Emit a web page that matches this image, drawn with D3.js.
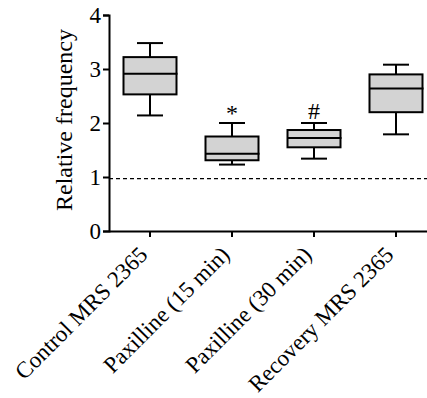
<!DOCTYPE html>
<html>
<head>
<meta charset="utf-8">
<script src="https://cdn.jsdelivr.net/npm/d3@7"></script>
<style>
  body { margin: 0; background: #fff; }
  svg, svg text { font-family: "Liberation Serif", "Times New Roman", serif; }
</style>
</head>
<body>
<svg id="chart" width="427" height="398"></svg>
<script>
const categories = ["Control MRS 2365", "Paxilline (15 min)", "Paxilline (30 min)", "Recovery MRS 2365"]
const whiskerLow = [2.14, 1.23, 1.34, 1.79]
const q1 = [2.53, 1.31, 1.55, 2.2]
const median = [2.91, 1.43, 1.72, 2.64]
const q3 = [3.22, 1.75, 1.87, 2.9]
const whiskerHigh = [3.48, 2.0, 2.0, 3.08]
const marks = ["", "*", "#", ""]
const yTicks = [0, 1, 2, 3, 4]
const baseline = 0.97

const margin = { top: 15, right: -10, bottom: 167, left: 109 },
    width = 427,
    height = 398

const data = categories.map((c, i) => ({
    name: c, lo: whiskerLow[i], q1: q1[i], med: median[i], q3: q3[i], hi: whiskerHigh[i], mark: marks[i]
}))

const x = d3.scaleBand()
    .domain(categories)
    .range([margin.left, width - margin.right])

const y = d3.scaleLinear()
    .domain([0, 4])
    .range([height - margin.bottom, margin.top])

const svg = d3.select("#chart")

const boxW = 53, capW = 26

// baseline
svg.append("line")
    .attr("x1", margin.left).attr("x2", width)
    .attr("y1", y(baseline)).attr("y2", y(baseline))
    .attr("stroke", "#000").attr("stroke-width", 1.2)
    .attr("stroke-dasharray", "4,3")

const g = svg.append("g").selectAll("g")
    .data(data)
    .enter().append("g")
    .attr("transform", d => `translate(${x(d.name) + x.bandwidth() / 2},0)`)

// whiskers
g.append("line").attr("x1", 0).attr("x2", 0)
    .attr("y1", d => y(d.hi)).attr("y2", d => y(d.q3))
    .attr("stroke", "#000").attr("stroke-width", 2)
g.append("line").attr("x1", 0).attr("x2", 0)
    .attr("y1", d => y(d.q1)).attr("y2", d => y(d.lo))
    .attr("stroke", "#000").attr("stroke-width", 2)
g.append("line").attr("x1", -capW / 2).attr("x2", capW / 2)
    .attr("y1", d => y(d.hi)).attr("y2", d => y(d.hi))
    .attr("stroke", "#000").attr("stroke-width", 2)
g.append("line").attr("x1", -capW / 2).attr("x2", capW / 2)
    .attr("y1", d => y(d.lo)).attr("y2", d => y(d.lo))
    .attr("stroke", "#000").attr("stroke-width", 2)

// boxes
g.append("rect")
    .attr("x", -boxW / 2).attr("width", boxW)
    .attr("y", d => y(d.q3)).attr("height", d => y(d.q1) - y(d.q3))
    .attr("fill", "#d3d3d3").attr("stroke", "#000").attr("stroke-width", 2)
g.append("line").attr("x1", -boxW / 2).attr("x2", boxW / 2 + 1)
    .attr("y1", d => y(d.med)).attr("y2", d => y(d.med))
    .attr("stroke", "#000").attr("stroke-width", 2)

// significance marks
g.append("text")
    .attr("y", d => d.mark === "*" ? y(d.hi) - 2 : y(d.hi) - 4)
    .attr("text-anchor", "middle")
    .attr("font-size", 24)
    .attr("fill", "#000")
    .text(d => d.mark)

// axes
const xAxis = svg.append("g")
    .attr("transform", `translate(0,${y(0)})`)
    .call(d3.axisBottom(x).tickSizeOuter(0).tickSize(6))
xAxis.select(".domain").attr("stroke-width", 2).attr("d", `M${margin.left},0.5H${width}`)
xAxis.selectAll(".tick line").attr("stroke-width", 2)
xAxis.selectAll(".tick text")
    .attr("font-size", 23)
    .attr("fill", "#000")
    .attr("text-anchor", "end")
    .attr("y", 0)
    .attr("dy", 0)
    .attr("transform", "translate(-1,25) rotate(-45)")

const yAxis = svg.append("g")
    .attr("transform", `translate(${margin.left},0)`)
    .call(d3.axisLeft(y).tickValues(yTicks).tickFormat(d3.format("d")).tickSizeOuter(0).tickSize(6).tickPadding(2))
yAxis.select(".domain").attr("stroke-width", 2)
yAxis.selectAll(".tick line").attr("stroke-width", 2)
yAxis.selectAll(".tick text").attr("font-size", 23).attr("fill", "#000")

svg.append("text")
    .attr("transform", `translate(72,${(y(0) + y(4)) / 2 - 3}) rotate(-90)`)
    .attr("text-anchor", "middle")
    .attr("font-size", 24)
    .attr("fill", "#000")
    .text("Relative frequency")
</script>
</body>
</html>
